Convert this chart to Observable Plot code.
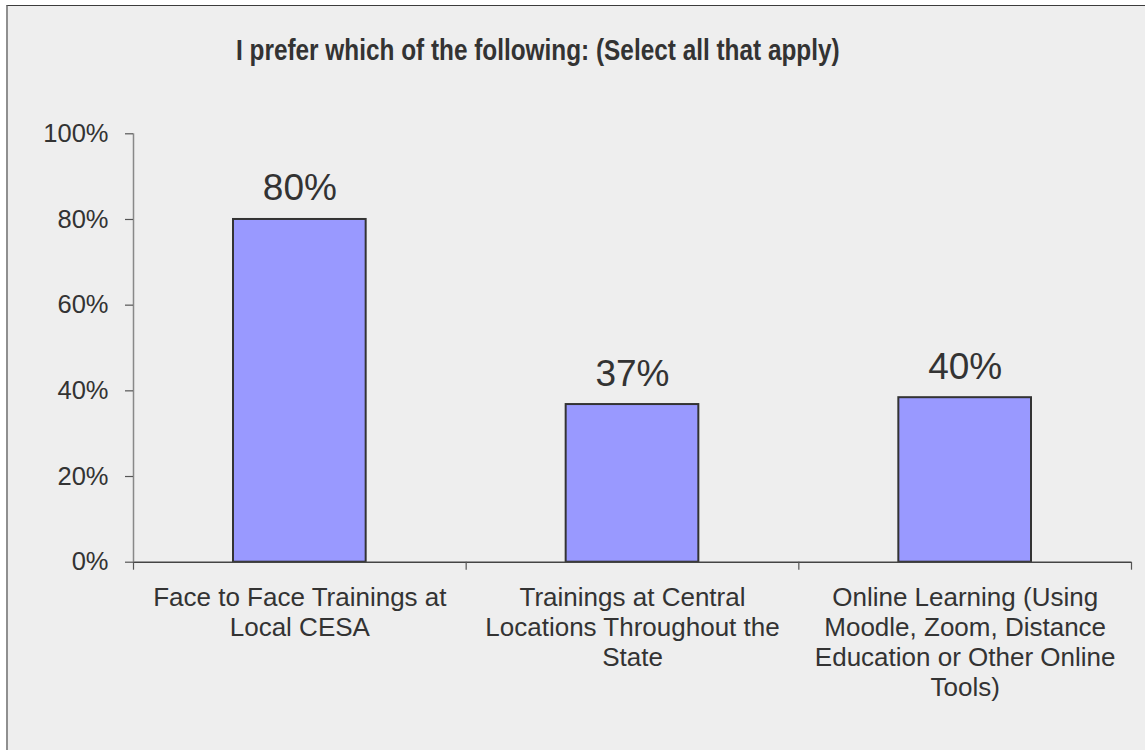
<!DOCTYPE html>
<html>
<head>
<meta charset="utf-8">
<script src="https://cdn.jsdelivr.net/npm/d3@7"></script>
<script src="https://cdn.jsdelivr.net/npm/@observablehq/plot@0.6"></script>
<style>
  html, body { margin: 0; padding: 0; background: #ffffff; }
  #wrap { position: relative; width: 1145px; height: 750px; overflow: hidden; }
  #frame { position: absolute; left: 6px; top: 5px; width: 1160px; height: 770px;
           background: #eeeeee; border-left: 2px solid #8f8f8f; border-top: 1.5px solid #3c3c3c; }
  #title { position: absolute; left: 236px; top: 36px; line-height: 1;
           font-family: "Liberation Sans", Arial, sans-serif;
           font-weight: bold; font-size: 29px; color: #333333; white-space: nowrap;
           transform: scaleX(0.84); transform-origin: 0 0; }
  #chart { position: absolute; left: 0; top: 0; }
</style>
</head>
<body>
<div id="wrap">
  <div id="frame"></div>
  <div id="title">I prefer which of the following: (Select all that apply)</div>
  <div id="chart"></div>
</div>
<script>
const categories = [
  "Face to Face Trainings at\nLocal CESA",
  "Trainings at Central\nLocations Throughout the\nState",
  "Online Learning (Using\nMoodle, Zoom, Distance\nEducation or Other Online\nTools)"
];
const values = [0.80, 0.368, 0.384];
const valueLabels = ["80%", "37%", "40%"];
const yTicks = [0, 0.2, 0.4, 0.6, 0.8, 1.0];

const rows = categories.map((c, i) => ({i, category: c, value: values[i], label: valueLabels[i]}));
const bounds = d3.range(categories.length + 1);

const chart = Plot.plot({
  width: 1145,
  height: 750,
  marginLeft: 133,
  marginRight: 14,
  marginTop: 133.3,
  marginBottom: 188.3,
  x: {type: "linear", domain: [0, categories.length], axis: null, label: null},
  y: {domain: [0, 1], axis: null, label: null},
  style: {background: "transparent", fontFamily: "'Liberation Sans', Arial, sans-serif", color: "#333"},
  marks: [
    Plot.rectY(rows, {x1: "i", x2: d => d.i + 1, y: "value", fill: "#9999ff", stroke: "#333", strokeWidth: 2, insetLeft: 100, insetRight: 100}),
    Plot.ruleY([0], {stroke: "#444", strokeWidth: 1.5}),
    Plot.ruleX([0], {y1: 0, y2: 1, stroke: "#888", strokeWidth: 1.5}),
    Plot.axisY({ticks: yTicks, tickFormat: d3.format(".0%"), tickSize: 8, tickPadding: 17, fontSize: 25.5, stroke: "#555", strokeWidth: 1.2, fill: "#333", label: null}),
    Plot.axisX({ticks: bounds, tickSize: 8, tickFormat: () => "", stroke: "#555", strokeWidth: 1.2, label: null}),
    Plot.text(rows, {x: d => d.i + 0.5, y: "value", text: "label", dy: -19, lineAnchor: "bottom", fontSize: 37, fill: "#333"}),
    Plot.text(rows, {x: d => d.i + 0.5, y: d => 0, text: "category", lineAnchor: "top", dy: 22, fontSize: 26, lineHeight: 1.155, fill: "#333"})
  ]
});
document.getElementById("chart").appendChild(chart);
</script>
</body>
</html>
